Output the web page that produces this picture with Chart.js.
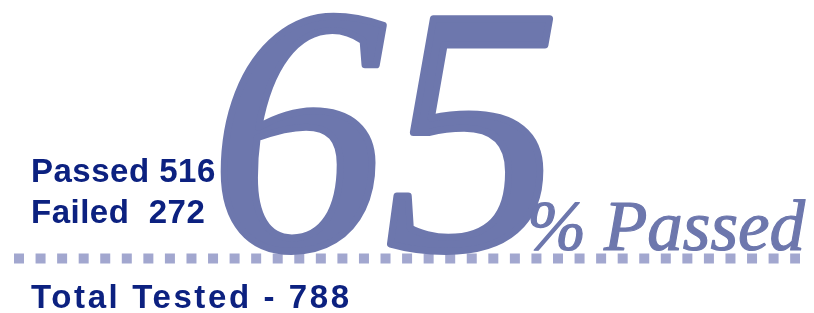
<!DOCTYPE html>
<html><head><meta charset="utf-8">
<script src="https://cdn.jsdelivr.net/npm/chart.js@4/dist/chart.umd.min.js"></script>
<style>html,body{margin:0;padding:0;background:#fff;overflow:hidden}#wrap{width:814px;height:313px}</style>
</head><body><div id="wrap"><canvas id="c" width="814" height="313"></canvas></div>
<script>
const categories = ["Passed", "Failed"];
const counts = [516, 272];
const percentLabel = "% Passed";
const totalLabel = "Total Tested - ";

const total = counts[0] + counts[1];
const pct = Math.round(counts[0] / total * 100);

const NAVY = "#0c2180";
const BIG = "#6d77ad";
const DOTS = "#a2a7cf";

const textPlugin = {
  id: "textPlugin",
  afterDatasetsDraw(chart) {
    const ctx = chart.ctx;
    ctx.save();
    ctx.textBaseline = "alphabetic";
    ctx.fillStyle = NAVY;
    ctx.font = "bold 33px 'Liberation Sans', Arial, sans-serif";
    ctx.letterSpacing = "0.5px";
    ctx.fillText(categories[0] + " " + counts[0], 31, 182);
    ctx.fillText(categories[1] + "  " + counts[1], 31, 223);
    ctx.letterSpacing = "2.6px";
    ctx.fillText(totalLabel + total, 31, 308);
    ctx.letterSpacing = "0px";
    ctx.fillStyle = BIG;
    ctx.strokeStyle = BIG;
    ctx.lineJoin = "round";
    ctx.font = "italic 350px 'Liberation Serif', 'Times New Roman', serif";
    ctx.lineWidth = 7;
    ctx.fillText(String(pct), 210, 248);
    ctx.strokeText(String(pct), 210, 248);
    ctx.font = "italic 71px 'Liberation Serif', 'Times New Roman', serif";
    ctx.lineWidth = 1.2;
    ctx.fillText(percentLabel, 527, 250);
    ctx.strokeText(percentLabel, 527, 250);
    ctx.restore();
  }
};

new Chart(document.getElementById("c"), {
  type: "line",
  data: {
    datasets: [{
      data: [{x: 14, y: 258.5}, {x: 800, y: 258.5}],
      borderColor: DOTS,
      borderWidth: 10,
      borderDash: [10, 11.56],
      borderCapStyle: "butt",
      pointRadius: 0,
      fill: false
    }]
  },
  options: {
    responsive: false,
    animation: false,
    devicePixelRatio: 1,
    layout: {padding: 0},
    plugins: {legend: {display: false}, tooltip: {enabled: false}},
    scales: {
      x: {type: "linear", min: 0, max: 814, display: false},
      y: {type: "linear", min: 0, max: 313, reverse: true, display: false}
    }
  },
  plugins: [textPlugin]
});
</script></body></html>
